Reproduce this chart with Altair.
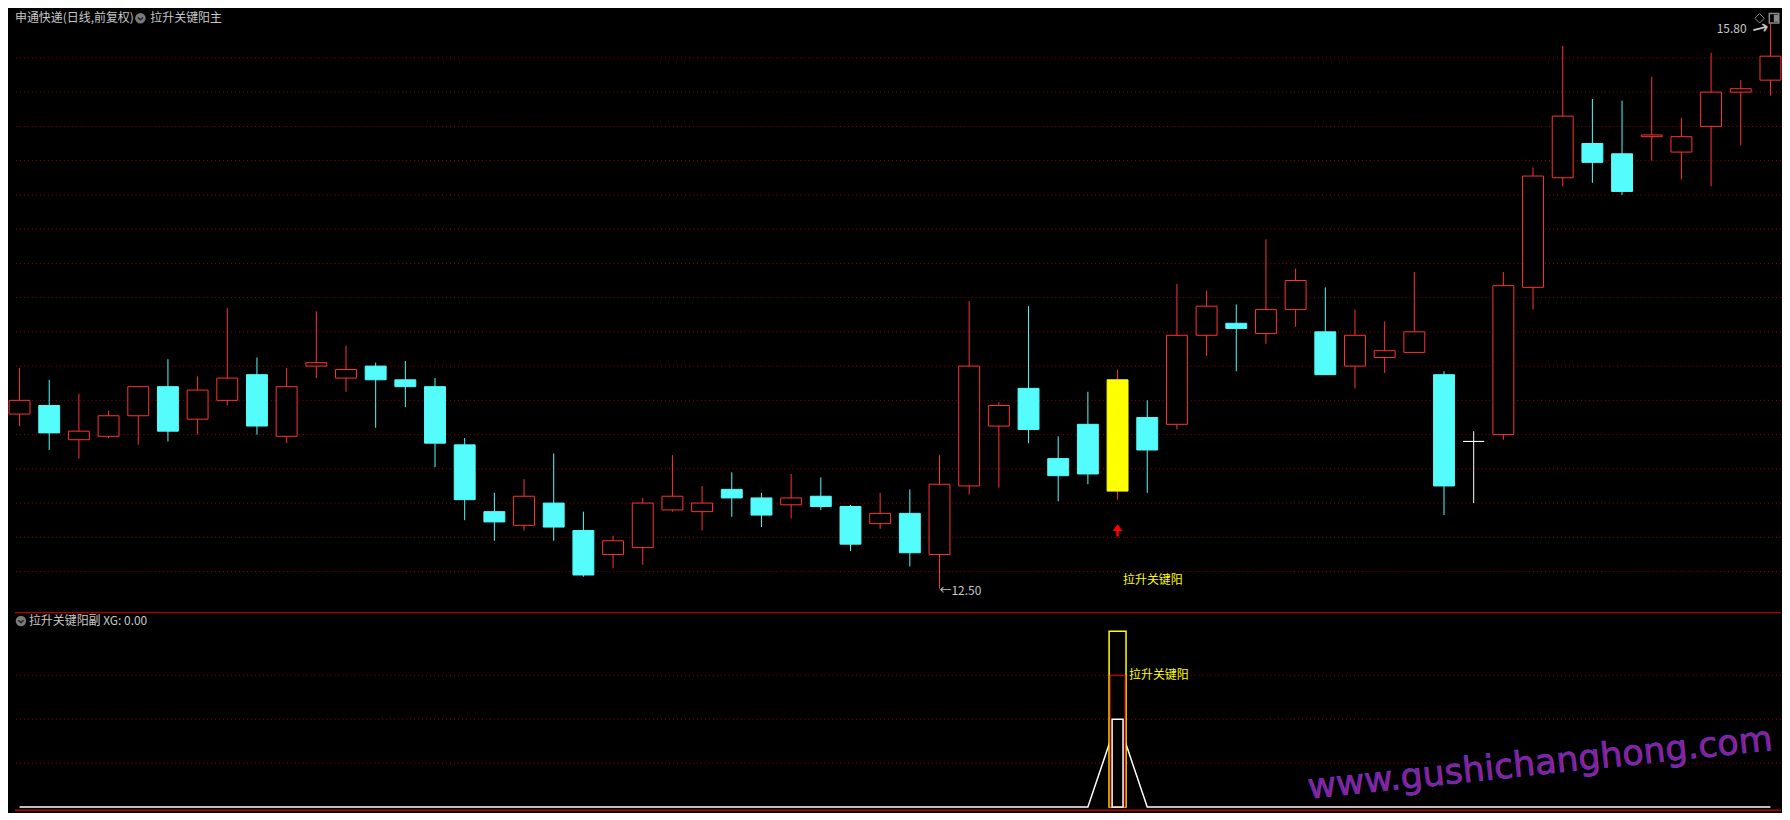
import altair as alt
import pandas as pd

# ---------------- data ----------------
opens = [13.52, 13.57, 13.37, 13.39, 13.51, 13.68, 13.49, 13.60, 13.75, 13.39,
         13.80, 13.73, 13.80, 13.72, 13.68, 13.34, 12.95, 12.87, 13.00, 12.84,
         12.70, 12.74, 12.96, 12.95, 13.08, 13.03, 12.99, 13.04, 12.98, 12.88,
         12.94, 12.70, 13.10, 13.45, 13.67, 13.26, 13.46, 13.07, 13.50, 13.46,
         13.98, 14.05, 13.99, 14.13, 14.00, 13.80, 13.85, 13.88, 13.75, 13.36,
         13.40, 14.26, 14.90, 15.10, 15.04, 15.14, 15.05, 15.20, 15.40, 15.47]
highs = [13.79, 13.72, 13.64, 13.54, 13.68, 13.84, 13.74, 14.14, 13.85, 13.79,
         14.12, 13.92, 13.82, 13.83, 13.73, 13.38, 13.06, 13.14, 13.29, 12.95,
         12.81, 13.03, 13.28, 13.10, 13.18, 13.06, 13.17, 13.15, 12.99, 13.06,
         13.08, 13.28, 14.18, 13.59, 14.15, 13.39, 13.65, 13.78, 13.60, 14.28,
         14.24, 14.16, 14.54, 14.37, 14.26, 14.13, 14.06, 14.35, 13.77, 13.42,
         14.35, 14.96, 15.67, 15.36, 15.35, 15.49, 15.25, 15.63, 15.47, 15.80]
lows = [13.45, 13.31, 13.26, 13.38, 13.34, 13.36, 13.40, 13.57, 13.40, 13.35,
        13.73, 13.65, 13.44, 13.56, 13.21, 12.90, 12.78, 12.84, 12.78, 12.57,
        12.62, 12.64, 12.95, 12.84, 12.92, 12.86, 12.91, 12.96, 12.72, 12.85,
        12.63, 12.50, 13.05, 13.09, 13.35, 13.01, 13.11, 13.02, 13.06, 13.43,
        13.86, 13.77, 13.93, 14.03, 13.75, 13.67, 13.76, 13.88, 12.93, 13.00,
        13.37, 14.13, 14.85, 14.87, 14.80, 15.00, 14.89, 14.85, 15.09, 15.38]
closes = [13.60, 13.41, 13.42, 13.51, 13.68, 13.42, 13.66, 13.73, 13.45, 13.68,
          13.82, 13.78, 13.72, 13.68, 13.35, 13.02, 12.89, 13.04, 12.86, 12.58,
          12.78, 13.00, 13.04, 13.00, 13.03, 12.93, 13.03, 12.98, 12.76, 12.94,
          12.71, 13.11, 13.80, 13.57, 13.43, 13.16, 13.17, 13.72, 13.31, 13.98,
          14.15, 14.02, 14.13, 14.30, 13.75, 13.98, 13.89, 14.00, 13.10, 13.36,
          14.27, 14.91, 15.26, 14.99, 14.82, 15.15, 15.14, 15.40, 15.42, 15.61]
key_flag = [0, 0, 0, 0, 0, 0, 0, 0, 0, 0,
            0, 0, 0, 0, 0, 0, 0, 0, 0, 0,
            0, 0, 0, 0, 0, 0, 0, 0, 0, 0,
            0, 0, 0, 0, 0, 0, 0, 1, 0, 0,
            0, 0, 0, 0, 0, 0, 0, 0, 0, 0,
            0, 0, 0, 0, 0, 0, 0, 0, 0, 0]
xg_line = [0, 0, 0, 0, 0, 0, 0, 0, 0, 0,
           0, 0, 0, 0, 0, 0, 0, 0, 0, 0,
           0, 0, 0, 0, 0, 0, 0, 0, 0, 0,
           0, 0, 0, 0, 0, 0, 0, 2, 0, 0,
           0, 0, 0, 0, 0, 0, 0, 0, 0, 0,
           0, 0, 0, 0, 0, 0, 0, 0, 0, 0]
stick_yellow = [4]
stick_red = [3]
stick_white = [2]
grid_main = [12.6, 12.8, 13.0, 13.2, 13.4, 13.6, 13.8, 14.0,
             14.2, 14.4, 14.6, 14.8, 15.0, 15.2, 15.4, 15.6]
grid_sub = [1, 2, 3]

stock_title = "申通快递(日线,前复权)"
main_title = "拉升关键阳主"
sub_title = "拉升关键阳副 XG: 0.00"
signal_label = "拉升关键阳"
low_label = "←12.50"
high_label = "15.80"
watermark = "www.gushichanghong.com"

# ---------------- tables ----------------
n = len(opens)
df = pd.DataFrame({"i": list(range(n)), "o": opens, "h": highs, "l": lows,
                   "c": closes, "key": key_flag})


def kind(r):
    if r["key"] == 1:
        return "key"
    if r["c"] > r["o"]:
        return "up"
    if r["c"] < r["o"]:
        return "down"
    return "doji"


df["kind"] = df.apply(kind, axis=1)
df["wick"] = df["kind"].map({"key": "up", "up": "up", "down": "down", "doji": "doji"})

key_i = key_flag.index(1)
low_i = lows.index(min(lows))
high_i = highs.index(max(highs))

# ---------------- layout ----------------
W = 1774
H1 = 603
H2 = 200
RED = "#ff3232"
CYAN = "#54fcfc"
YEL = "#ffff00"
GRID = "#a00000"
TXT = "#c8c8c8"
FONT = "Noto Sans CJK SC"

xs = alt.Scale(domain=[-0.1543, 59.356], nice=False, zero=False, padding=0)
ys = alt.Scale(domain=[12.3634, 15.8692], nice=False, zero=False, padding=0)
ys2 = alt.Scale(domain=[-0.095, 4.438], nice=False, zero=False, padding=0)

kinds = ["up", "down", "doji", "key"]
stroke_scale = alt.Scale(domain=kinds, range=[RED, CYAN, "#ffffff", YEL])
fill_scale = alt.Scale(domain=kinds, range=["#000000", CYAN, "#ffffff", YEL])

X = alt.X("i:Q", scale=xs, axis=None)

base = alt.Chart(df)

grid1 = alt.Chart(pd.DataFrame({"g": grid_main})).mark_rule(
    color=GRID, strokeWidth=1, strokeDash=[1, 3]
).encode(y=alt.Y("g:Q", scale=ys, axis=None))

wicks = base.mark_rule(strokeWidth=1).encode(
    x=X,
    y=alt.Y("l:Q", scale=ys, axis=None),
    y2="h:Q",
    stroke=alt.Stroke("wick:N", scale=stroke_scale, legend=None),
)

bodies = base.mark_bar(size=21, strokeWidth=1).encode(
    x=X,
    y=alt.Y("o:Q", scale=ys, axis=None),
    y2="c:Q",
    fill=alt.Fill("kind:N", scale=fill_scale, legend=None),
    stroke=alt.Stroke("kind:N", scale=stroke_scale, legend=None),
)

low_df = pd.DataFrame({"i": [low_i], "p": [lows[low_i]], "t": [low_label]})
low_txt = alt.Chart(low_df).mark_text(
    align="left", baseline="middle", dy=2, fontSize=12, font=FONT, color=TXT
).encode(x=X, y=alt.Y("p:Q", scale=ys, axis=None), text="t:N")

high_df = pd.DataFrame({"i": [high_i], "p": [highs[high_i]], "t": [high_label], "a": ["→"]})
high_txt = alt.Chart(high_df).mark_text(
    align="right", baseline="middle", dx=-24, dy=5.5, fontSize=12, font=FONT, color=TXT
).encode(x=X, y=alt.Y("p:Q", scale=ys, axis=None), text="t:N")
high_arrow = alt.Chart(high_df).mark_text(
    align="center", baseline="middle", dx=-11, dy=2.5, fontSize=20, angle=346,
    font="DejaVu Sans", color=TXT
).encode(x=X, y=alt.Y("p:Q", scale=ys, axis=None), text="a:N")

arrow_df = pd.DataFrame({"i": [key_i], "head": [12.848], "tail": [12.805], "top": [12.852],
                         "lab": [12.5495], "t": [signal_label]})
arrow_shaft = alt.Chart(arrow_df).mark_rule(color="#ff0000", strokeWidth=2.5).encode(
    x=X, y=alt.Y("tail:Q", scale=ys, axis=None), y2="top:Q")
arrow_head = alt.Chart(arrow_df).mark_point(
    shape="M0,-1L1,0.4L-1,0.4Z", size=100, filled=True, color="#ff0000", opacity=1
).encode(x=X, y=alt.Y("head:Q", scale=ys, axis=None))
sig_txt = alt.Chart(arrow_df).mark_text(
    align="left", baseline="middle", dx=5.5, fontSize=12, font=FONT, color=YEL
).encode(x=X, y=alt.Y("lab:Q", scale=ys, axis=None), text="t:N")

title_df = pd.DataFrame({"a": [stock_title], "b": [main_title]})
title_a = alt.Chart(title_df).mark_text(
    align="left", baseline="middle", fontSize=12, font=FONT, color=TXT
).encode(x=alt.value(0), y=alt.value(6.5), text="a:N")
title_icon = alt.Chart(title_df).mark_point(
    shape="circle", size=110, filled=True, color="#7a7a7a", opacity=1
).encode(x=alt.value(126), y=alt.value(6.5))
title_chev = alt.Chart(title_df).mark_point(
    shape="M-0.5,-0.15L0,0.3L0.5,-0.15", size=110, filled=False, color="#222222",
    strokeWidth=1.5, opacity=1
).encode(x=alt.value(126), y=alt.value(6.5))
title_b = alt.Chart(title_df).mark_text(
    align="left", baseline="middle", fontSize=12, font=FONT, color=TXT
).encode(x=alt.value(136), y=alt.value(6.5), text="b:N")

icon_diamond = alt.Chart(title_df).mark_point(
    shape="diamond", size=90, filled=False, color="#8a8a8a", strokeWidth=1, opacity=1
).encode(x=alt.value(1752.5), y=alt.value(6.5))
icon_box = alt.Chart(title_df).mark_point(
    shape="square", size=90, filled=False, color="#8a8a8a", strokeWidth=1.5, opacity=1
).encode(x=alt.value(1767), y=alt.value(6.5))
icon_box_fill = alt.Chart(title_df).mark_point(
    shape="M-0.2,-1L1,-1L1,1L-0.2,1Z", size=50, filled=True, color="#8a8a8a", opacity=1
).encode(x=alt.value(1767.5), y=alt.value(6.5))

main = alt.layer(
    grid1, wicks, bodies, low_txt, high_txt, high_arrow, arrow_shaft, arrow_head,
    sig_txt, title_a, title_icon, title_chev, title_b, icon_diamond, icon_box,
    icon_box_fill
).properties(width=W, height=H1)

# ---------------- sub panel ----------------
sub_df = pd.DataFrame({"i": list(range(n)), "v": xg_line})
stick_df = pd.DataFrame({"i": [key_i], "y0": [0], "yy": stick_yellow, "yr": stick_red,
                         "yw": stick_white, "t": [signal_label]})

grid2 = alt.Chart(pd.DataFrame({"g": grid_sub})).mark_rule(
    color=GRID, strokeWidth=1, strokeDash=[1, 3]
).encode(y=alt.Y("g:Q", scale=ys2, axis=None))

xg = alt.Chart(sub_df).mark_line(color="#ffffff", strokeWidth=1.5).encode(
    x=X, y=alt.Y("v:Q", scale=ys2, axis=None))

st_y = alt.Chart(stick_df).mark_bar(size=17, fill="#000000", stroke=YEL, strokeWidth=1.5).encode(
    x=X, y=alt.Y("y0:Q", scale=ys2, axis=None), y2="yy:Q")
st_r = alt.Chart(stick_df).mark_bar(size=15, fill="#000000", stroke="#ff0000", strokeWidth=1).encode(
    x=X, y=alt.Y("y0:Q", scale=ys2, axis=None), y2="yr:Q")
st_w = alt.Chart(stick_df).mark_bar(size=11, fill="#000000", stroke="#ffffff", strokeWidth=1.5).encode(
    x=X, y=alt.Y("y0:Q", scale=ys2, axis=None), y2="yw:Q")
st_txt = alt.Chart(stick_df).mark_text(
    align="left", baseline="middle", dx=11.5, fontSize=12, font=FONT, color=YEL
).encode(x=X, y=alt.Y("yr:Q", scale=ys2, axis=None), text="t:N")

sub_title_df = pd.DataFrame({"t": [sub_title], "w": [watermark]})
sep = alt.Chart(sub_title_df).mark_rule(color="#b00000", strokeWidth=1.2).encode(
    x=alt.value(0), x2=alt.value(W), y=alt.value(0.6))
bottom = alt.Chart(sub_title_df).mark_rule(color="#c00000", strokeWidth=1.5).encode(
    x=alt.value(0), x2=alt.value(W), y=alt.value(199))
sub_icon = alt.Chart(sub_title_df).mark_point(
    shape="circle", size=110, filled=True, color="#7a7a7a", opacity=1
).encode(x=alt.value(6), y=alt.value(9))
sub_chev = alt.Chart(sub_title_df).mark_point(
    shape="M-0.5,-0.15L0,0.3L0.5,-0.15", size=110, filled=False, color="#222222",
    strokeWidth=1.5, opacity=1
).encode(x=alt.value(6), y=alt.value(9))
sub_txt = alt.Chart(sub_title_df).mark_text(
    align="left", baseline="middle", fontSize=12, font=FONT, color=TXT
).encode(x=alt.value(14), y=alt.value(9), text="t:N")
wm = alt.Chart(sub_title_df).mark_text(
    align="center", baseline="middle", fontSize=35, font="DejaVu Sans", angle=354,
    fill="#9a1a8c", stroke="#5a3cc8", strokeWidth=0.8
).encode(x=alt.value(1532), y=alt.value(152), text="w:N")

sub = alt.layer(
    grid2, xg, st_y, st_r, st_w, st_txt, sep, bottom,
    sub_icon, sub_chev, sub_txt, wm
).properties(width=W, height=H2)

chart = alt.vconcat(main, sub, spacing=0).properties(
    padding=0, background="#000000"
).configure_view(strokeWidth=0)

chart.save("out.html", embed_options={"renderer": "svg", "actions": False})
